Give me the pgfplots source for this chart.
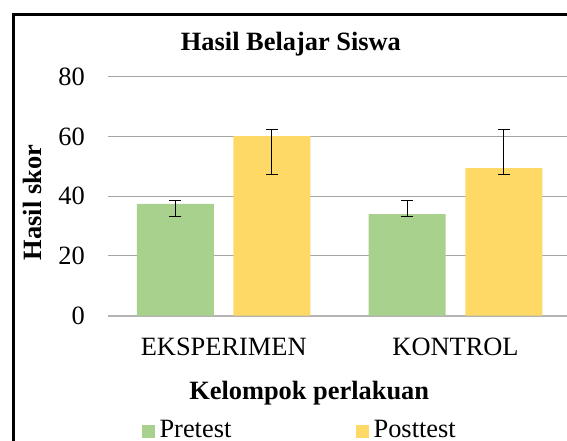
\documentclass[border=0pt]{standalone}
\usepackage{fontspec}
\setmainfont{Liberation Serif}
\usepackage{pgfplots}
\pgfplotsset{compat=1.18}
\definecolor{pregreen}{HTML}{A9D18E}
\definecolor{postyellow}{HTML}{FFD966}
\definecolor{gridgray}{HTML}{A6A6A6}
\begin{document}
\begin{tikzpicture}[font=\fontsize{19.8pt}{23pt}\selectfont]
\useasboundingbox (0,0) rectangle (425.25pt,330.75pt);
\begin{axis}[
  at={(80.85pt,93.975pt)}, anchor=south west,
  scale only axis, width=347.7pt, height=179.1pt,
  ybar, bar width=57.75pt,
  xmin=-0.5, xmax=1.5, ymin=0, ymax=80,
  xtick={0,1}, xticklabels={EKSPERIMEN,KONTROL},
  ytick={0,20,40,60,80},
  /pgf/number format/assume math mode=true,
  ymajorgrids, major grid style={draw=gridgray, line width=0.75pt},
  axis x line=bottom, axis y line=left,
  x axis line style={draw=gridgray!85, line width=1.3pt, -},
  y axis line style={draw=none},
  major tick length=0pt, tick style={draw=none},
  xticklabel style={anchor=base, inner sep=0pt, yshift=-30.2pt, font=\fontsize{19.8pt}{23pt}\selectfont},
  yticklabel style={anchor=east, inner sep=0pt, xshift=-17.1pt, font=\fontsize{19.8pt}{23pt}\selectfont},
  title={Hasil Belajar Siswa},
  title style={at={(axis description cs:0.395,1.078)}, anchor=base, inner sep=0pt, font=\fontsize{19.8pt}{23pt}\selectfont\bfseries},
  xlabel={Kelompok perlakuan},
  xlabel style={at={(axis description cs:0.4344,-0.353)}, anchor=base, inner sep=0pt, font=\fontsize{19.8pt}{23pt}\selectfont\bfseries},
  ylabel={Hasil skor},
  ylabel style={at={(axis description cs:-0.1426,0.474)}, anchor=base, inner sep=0pt, font=\fontsize{19.8pt}{23pt}\selectfont\bfseries},
  legend columns=2,
  legend image code/.code={\fill[#1] (0pt,-6.75pt) rectangle (9.75pt,3pt);},
  legend style={at={(axis description cs:0.0738,-0.5164)}, anchor=south west,
    draw=none, fill=none, inner sep=0pt, outer sep=0pt,
    font=\fontsize{19.8pt}{23pt}\selectfont,
    nodes={inner sep=0pt},
    /tikz/every odd column/.append style={column sep=3.4pt},
    /tikz/every even column/.append style={column sep=93.5pt}},
  error bars/y dir=both, error bars/y explicit,
  error bars/error bar style={black, line width=0.75pt},
  error bars/error mark options={black, rotate=90, mark size=4.5pt, line width=0.75pt},
]
\addplot[fill=pregreen, draw=none, bar shift=-36.2pt] coordinates {
  (0,37.5) += (0,1.0) -= (0,4.3)
  (1,34.0) += (0,4.5) -= (0,0.8)
};
\addlegendentry{Pretest}
\addplot[fill=postyellow, draw=none, bar shift=36.2pt] coordinates {
  (0,60.2) += (0,2.2) -= (0,12.8)
  (1,49.4) += (0,13.0) -= (0,2.0)
};
\addlegendentry{Posttest}
\end{axis}
\draw[line width=2.6pt] (9.975pt,-20pt) -- (9.975pt,319.7pt) -- (450pt,319.7pt);
\end{tikzpicture}
\end{document}
